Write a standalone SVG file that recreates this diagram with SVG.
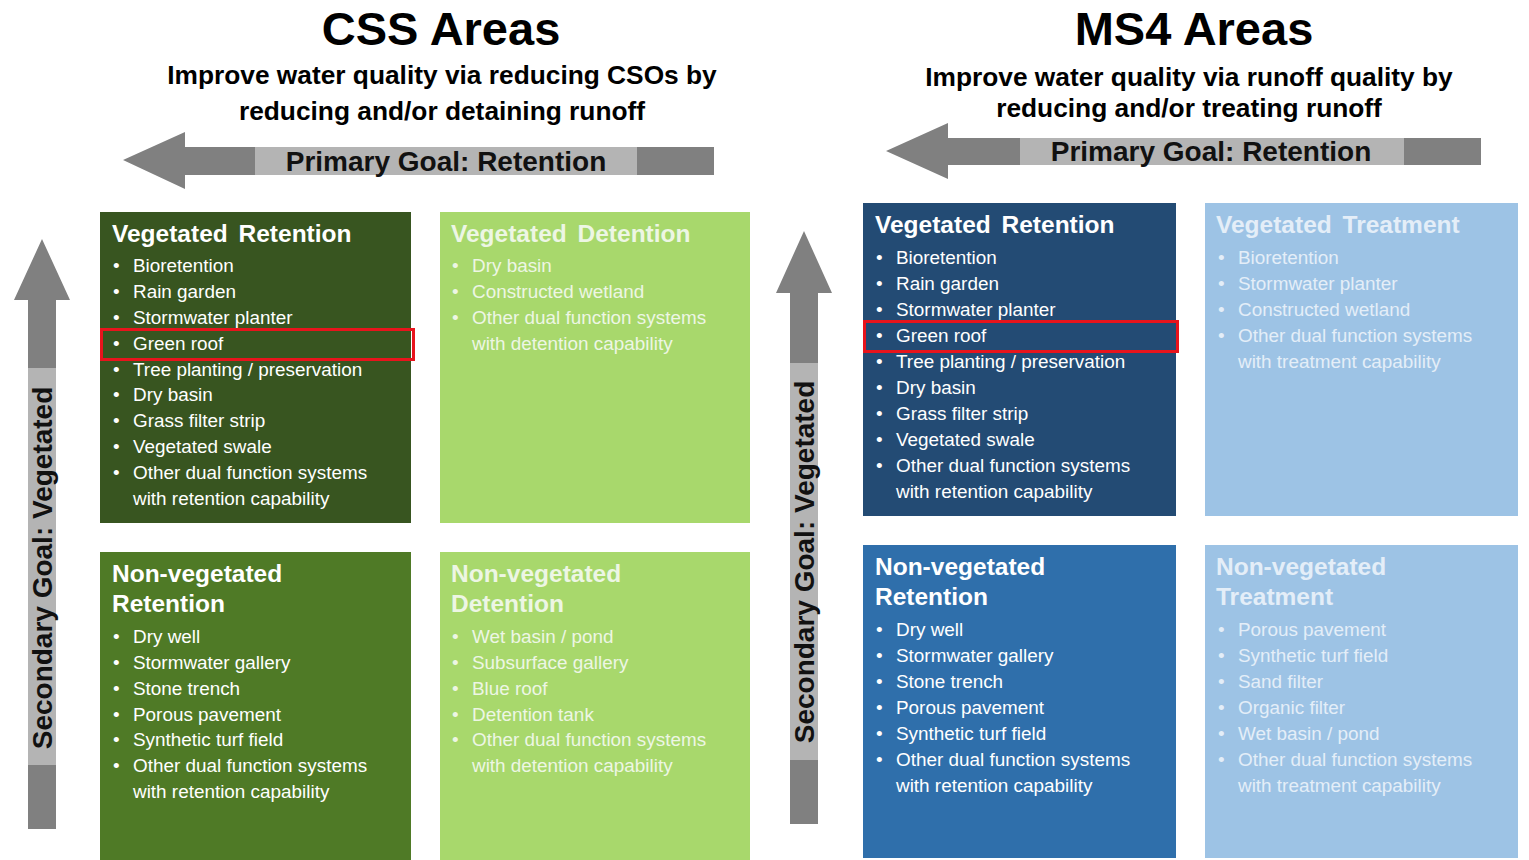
<svg xmlns="http://www.w3.org/2000/svg" width="1529" height="860" viewBox="0 0 1529 860">
  <style>
    .title { font-family: "Liberation Sans", Arial, sans-serif; font-weight: bold; font-size: 47px; fill: #000; text-anchor: middle; }
    .sub { font-family: "Liberation Sans", Arial, sans-serif; font-weight: bold; font-size: 26.3px; fill: #000; text-anchor: middle; }
    .goal { font-family: "Liberation Sans", Arial, sans-serif; font-weight: bold; font-size: 28px; fill: #111; text-anchor: middle; }
    .arrow-dark { fill: #808080; }
    .arrow-light { fill: #b4b4b4; }
    .head { font-family: "Liberation Sans", Arial, sans-serif; font-weight: bold; font-size: 24.5px; word-spacing: 4px; fill: #fff; }
    .item { font-family: "Liberation Sans", Arial, sans-serif; font-size: 18.9px; fill: #fff; }
    .pale .head, .pale .item { fill: #edf6e4; }
    .paleb .head, .paleb .item { fill: #e4eef8; }
    .mark { fill: none; stroke: #e8141c; stroke-width: 3; }
  </style>

  <!-- Headers -->
  <text class="title" x="441" y="45">CSS Areas</text>
  <text class="sub" x="442" y="84">Improve water quality via reducing CSOs by</text>
  <text class="sub" x="442" y="120">reducing and/or detaining runoff</text>

  <text class="title" x="1194" y="45">MS4 Areas</text>
  <text class="sub" x="1189" y="86">Improve water quality via runoff quality by</text>
  <text class="sub" x="1189" y="117">reducing and/or treating runoff</text>

  <!-- Goal arrows -->
  <g id="arrows">
    <g id="css-primary">
      <polygon class="arrow-dark" points="123,160 185,132 185,147 714,147 714,175 185,175 185,189"/>
      <rect class="arrow-light" x="255" y="147" width="382" height="28"/>
      <text class="goal" x="446" y="171">Primary Goal: Retention</text>
    </g>
    <g id="css-secondary">
      <polygon class="arrow-dark" points="42,239 70,300 56,300 56,829 28,829 28,300 14,300"/>
      <rect class="arrow-light" x="28" y="368" width="28" height="397"/>
      <text class="goal" transform="translate(52,568) rotate(-90)">Secondary Goal: Vegetated</text>
    </g>
    <g id="ms4-primary">
      <polygon class="arrow-dark" points="886,151 948,123 948,138 1481,138 1481,165 948,165 948,179"/>
      <rect class="arrow-light" x="1020" y="138" width="384" height="27"/>
      <text class="goal" x="1211" y="161">Primary Goal: Retention</text>
    </g>
    <g id="ms4-secondary">
      <polygon class="arrow-dark" points="804,231 832,293 818,293 818,824 790,824 790,293 776,293"/>
      <rect class="arrow-light" x="790" y="363" width="28" height="397"/>
      <text class="goal" transform="translate(814,562) rotate(-90)">Secondary Goal: Vegetated</text>
    </g>
  </g>

  <!-- CSS: Vegetated Retention -->
  <g id="css-veg-retention">
    <rect x="100" y="212" width="311" height="311" fill="#385520"/>
    <text class="head" x="112" y="242">Vegetated Retention</text>
    <g class="item">
      <text x="113" y="272">•</text><text x="133" y="272">Bioretention</text>
      <text x="113" y="298">•</text><text x="133" y="298">Rain garden</text>
      <text x="113" y="324">•</text><text x="133" y="324">Stormwater planter</text>
      <text x="113" y="350">•</text><text x="133" y="350">Green roof</text>
      <text x="113" y="376">•</text><text x="133" y="376">Tree planting / preservation</text>
      <text x="113" y="401">•</text><text x="133" y="401">Dry basin</text>
      <text x="113" y="427">•</text><text x="133" y="427">Grass filter strip</text>
      <text x="113" y="453">•</text><text x="133" y="453">Vegetated swale</text>
      <text x="113" y="479">•</text><text x="133" y="479">Other dual function systems</text>
      <text x="133" y="505">with retention capability</text>
    </g>
    <rect class="mark" x="101.5" y="329.5" width="312" height="30"/>
  </g>

  <!-- CSS: Vegetated Detention -->
  <g id="css-veg-detention" class="pale">
    <rect x="440" y="212" width="310" height="311" fill="#a8d86c"/>
    <text class="head" x="451" y="242">Vegetated Detention</text>
    <g>
      <text class="item" x="452" y="272">•</text><text class="item" x="472" y="272">Dry basin</text>
      <text class="item" x="452" y="298">•</text><text class="item" x="472" y="298">Constructed wetland</text>
      <text class="item" x="452" y="324">•</text><text class="item" x="472" y="324">Other dual function systems</text>
      <text class="item" x="472" y="350">with detention capability</text>
    </g>
  </g>

  <!-- CSS: Non-vegetated Retention -->
  <g id="css-nonveg-retention">
    <rect x="100" y="552" width="311" height="308" fill="#4f7a26"/>
    <text class="head" x="112" y="582">Non-vegetated</text>
    <text class="head" x="112" y="612">Retention</text>
    <g class="item">
      <text x="113" y="643">•</text><text x="133" y="643">Dry well</text>
      <text x="113" y="669">•</text><text x="133" y="669">Stormwater gallery</text>
      <text x="113" y="695">•</text><text x="133" y="695">Stone trench</text>
      <text x="113" y="721">•</text><text x="133" y="721">Porous pavement</text>
      <text x="113" y="746">•</text><text x="133" y="746">Synthetic turf field</text>
      <text x="113" y="772">•</text><text x="133" y="772">Other dual function systems</text>
      <text x="133" y="798">with retention capability</text>
    </g>
  </g>

  <!-- CSS: Non-vegetated Detention -->
  <g id="css-nonveg-detention" class="pale">
    <rect x="440" y="552" width="310" height="308" fill="#a8d86c"/>
    <text class="head" x="451" y="582">Non-vegetated</text>
    <text class="head" x="451" y="612">Detention</text>
    <g>
      <text class="item" x="452" y="643">•</text><text class="item" x="472" y="643">Wet basin / pond</text>
      <text class="item" x="452" y="669">•</text><text class="item" x="472" y="669">Subsurface gallery</text>
      <text class="item" x="452" y="695">•</text><text class="item" x="472" y="695">Blue roof</text>
      <text class="item" x="452" y="721">•</text><text class="item" x="472" y="721">Detention tank</text>
      <text class="item" x="452" y="746">•</text><text class="item" x="472" y="746">Other dual function systems</text>
      <text class="item" x="472" y="772">with detention capability</text>
    </g>
  </g>

  <!-- MS4: Vegetated Retention -->
  <g id="ms4-veg-retention">
    <rect x="863" y="203" width="313" height="313" fill="#234b74"/>
    <text class="head" x="875" y="233">Vegetated Retention</text>
    <g class="item">
      <text x="876" y="264">•</text><text x="896" y="264">Bioretention</text>
      <text x="876" y="290">•</text><text x="896" y="290">Rain garden</text>
      <text x="876" y="316">•</text><text x="896" y="316">Stormwater planter</text>
      <text x="876" y="342">•</text><text x="896" y="342">Green roof</text>
      <text x="876" y="368">•</text><text x="896" y="368">Tree planting / preservation</text>
      <text x="876" y="394">•</text><text x="896" y="394">Dry basin</text>
      <text x="876" y="420">•</text><text x="896" y="420">Grass filter strip</text>
      <text x="876" y="446">•</text><text x="896" y="446">Vegetated swale</text>
      <text x="876" y="472">•</text><text x="896" y="472">Other dual function systems</text>
      <text x="896" y="498">with retention capability</text>
    </g>
    <rect class="mark" x="864.5" y="321.5" width="313" height="30"/>
  </g>

  <!-- MS4: Vegetated Treatment -->
  <g id="ms4-veg-treatment" class="paleb">
    <rect x="1205" y="203" width="313" height="313" fill="#9dc3e5"/>
    <text class="head" x="1216" y="233">Vegetated Treatment</text>
    <g>
      <text class="item" x="1218" y="264">•</text><text class="item" x="1238" y="264">Bioretention</text>
      <text class="item" x="1218" y="290">•</text><text class="item" x="1238" y="290">Stormwater planter</text>
      <text class="item" x="1218" y="316">•</text><text class="item" x="1238" y="316">Constructed wetland</text>
      <text class="item" x="1218" y="342">•</text><text class="item" x="1238" y="342">Other dual function systems</text>
      <text class="item" x="1238" y="368">with treatment capability</text>
    </g>
  </g>

  <!-- MS4: Non-vegetated Retention -->
  <g id="ms4-nonveg-retention">
    <rect x="863" y="545" width="313" height="313" fill="#2f6fab"/>
    <text class="head" x="875" y="575">Non-vegetated</text>
    <text class="head" x="875" y="605">Retention</text>
    <g class="item">
      <text x="876" y="636">•</text><text x="896" y="636">Dry well</text>
      <text x="876" y="662">•</text><text x="896" y="662">Stormwater gallery</text>
      <text x="876" y="688">•</text><text x="896" y="688">Stone trench</text>
      <text x="876" y="714">•</text><text x="896" y="714">Porous pavement</text>
      <text x="876" y="740">•</text><text x="896" y="740">Synthetic turf field</text>
      <text x="876" y="766">•</text><text x="896" y="766">Other dual function systems</text>
      <text x="896" y="792">with retention capability</text>
    </g>
  </g>

  <!-- MS4: Non-vegetated Treatment -->
  <g id="ms4-nonveg-treatment" class="paleb">
    <rect x="1205" y="545" width="313" height="313" fill="#9dc3e5"/>
    <text class="head" x="1216" y="575">Non-vegetated</text>
    <text class="head" x="1216" y="605">Treatment</text>
    <g>
      <text class="item" x="1218" y="636">•</text><text class="item" x="1238" y="636">Porous pavement</text>
      <text class="item" x="1218" y="662">•</text><text class="item" x="1238" y="662">Synthetic turf field</text>
      <text class="item" x="1218" y="688">•</text><text class="item" x="1238" y="688">Sand filter</text>
      <text class="item" x="1218" y="714">•</text><text class="item" x="1238" y="714">Organic filter</text>
      <text class="item" x="1218" y="740">•</text><text class="item" x="1238" y="740">Wet basin / pond</text>
      <text class="item" x="1218" y="766">•</text><text class="item" x="1238" y="766">Other dual function systems</text>
      <text class="item" x="1238" y="792">with treatment capability</text>
    </g>
  </g>
</svg>
